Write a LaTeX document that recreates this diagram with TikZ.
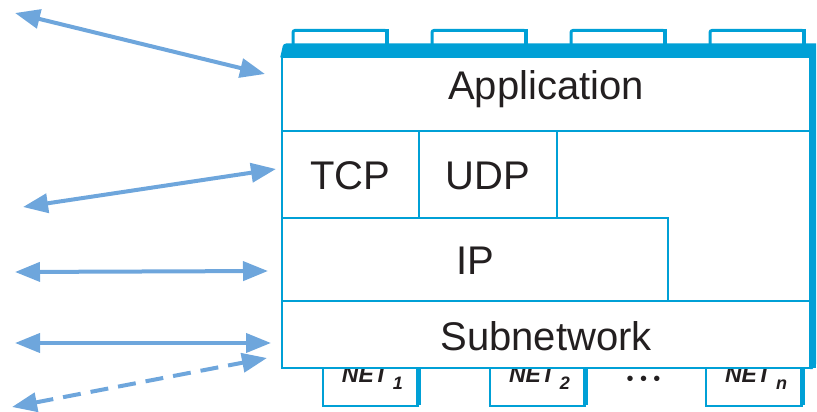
\documentclass[tikz,border=0pt]{standalone}
\usepackage{fontspec}
\setmainfont{Liberation Sans}
\usetikzlibrary{arrows.meta}
\definecolor{frame}{RGB}{0,160,214}
\definecolor{linkblue}{RGB}{110,166,220}
\definecolor{ink}{RGB}{35,31,32}
\begin{document}
\begin{tikzpicture}[x=1pt,y=-1pt,
  cell/.style={draw=frame, line width=1.8pt, fill=white, inner sep=0pt, outer sep=0pt, anchor=north west},
  celltext/.style={text=ink, font=\fontsize{40}{40}\selectfont, inner sep=0pt, text height=29pt, text depth=0pt, anchor=center},
  nettext/.style={text=ink, font=\fontsize{23}{23}\selectfont\bfseries\itshape, inner sep=0pt, anchor=base},
  shadow/.style={draw=frame, line width=4.5pt},
  tabtop/.style={draw=frame, line width=3pt, rounded corners=2pt},
  link/.style={draw=linkblue, line width=4pt,
    arrows={Triangle[length=25pt,width=19pt]-Triangle[length=25pt,width=19pt]}},
  dashedlink/.style={link, dash pattern=on 18pt off 10pt}
]
\useasboundingbox (0,0) rectangle (817,412);

% ---- network boxes below the stack (their tops hide behind it) ----
\foreach \name/\xl/\xr/\sub in {net1/323/418/1, net2/490/585/2, netn/706/802/n}{
  \node[cell, minimum width=\xr pt-\xl pt, minimum height=46pt] (\name) at (\xl,360) {};
  \draw[shadow] (\xr+0.5,362) -- (\xr+0.5,405);
  \node[nettext] (\name label) at ({(\xl+\xr)/2+2},382.5)
    {NET\hspace{5pt}\raisebox{-7pt}{\fontsize{18}{18}\selectfont\sub}};
}
\node[text=ink, font=\fontsize{20}{20}\selectfont, inner sep=0pt, anchor=base] (dots) at (643.5,385.5)
  {\textbullet\hspace{6.3pt}\textbullet\hspace{6.3pt}\textbullet};

% ---- tabs on top of the stack ----
\foreach \xl in {293,432,571,710}{
  \draw[tabtop] (\xl,48) |- (\xl+94,30.5) -- (\xl+94,48);
  \draw[shadow] (\xl+94,29) -- (\xl+94,48);
}

% ---- heavy top bar and right edge ----
\fill[frame] (280.2,57.5) -- (282.8,46) to[out=70,in=180] (286,43.5) -- (816,43.5)
  -- (816,364) -- (812.5,369) -- (810,369) -- (810,57.5) -- cycle;

% ---- protocol layers ----
\node[cell, minimum width=528pt, minimum height=311pt] (stack) at (282,57.5) {};
\node[cell, minimum width=528pt, minimum height=73.5pt] (app) at (282,57.5) {};
\node[cell, minimum width=137pt, minimum height=87pt] (tcp) at (282,131) {};
\node[cell, minimum width=138pt, minimum height=87pt] (udp) at (419,131) {};
\node[cell, minimum width=386pt, minimum height=83pt] (ip) at (282,218) {};
\node[cell, minimum width=528pt, minimum height=67pt] (subnet) at (282,301) {};
\fill[frame] (809.1,57) rectangle (816,368);

\node[celltext, yshift=9pt] (applabel) at (app.center) {Application};
\node[celltext] (tcplabel) at (tcp.center) {TCP};
\node[celltext] (udplabel) at (udp.center) {UDP};
\node[celltext] (iplabel) at (ip.center) {IP};
\node[celltext, yshift=-1.5pt] (subnetlabel) at (subnet.center) {Subnetwork};

% ---- peer links on the left ----
\coordinate (appfar) at (15,13);
\coordinate (appnear) at (265,74);
\coordinate (tcpfar) at (23,207);
\coordinate (tcpnear) at (276,169);
\coordinate (ipfar) at (15,272);
\coordinate (ipnear) at (268,271);
\coordinate (subfar) at (15,343);
\coordinate (subnear) at (271,343);
\coordinate (netfar) at (12,407);
\coordinate (netnear) at (267,358);

\draw[link] (appfar) -- (appnear);
\draw[link] (tcpfar) -- (tcpnear);
\draw[link] (ipfar) -- (ipnear);
\draw[link] (subfar) -- (subnear);
\draw[dashedlink] (netfar) -- (netnear);
\end{tikzpicture}
\end{document}
